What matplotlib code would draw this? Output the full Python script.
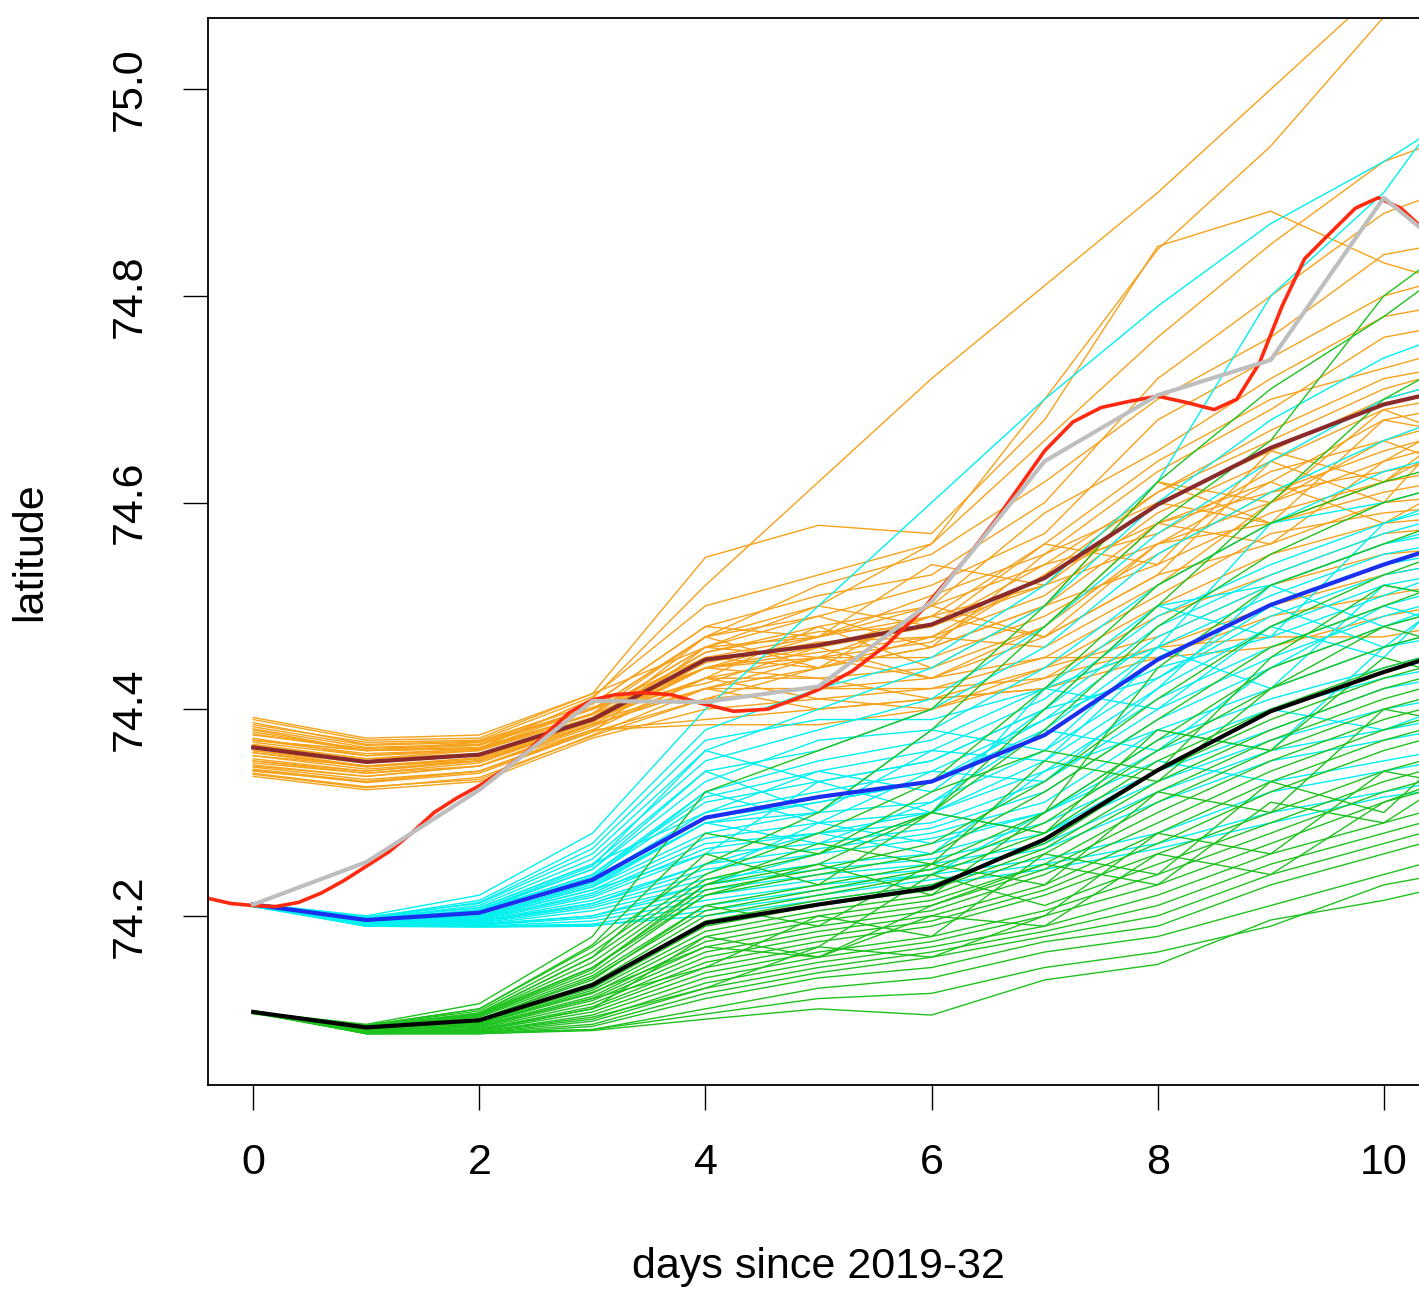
import matplotlib
matplotlib.use("Agg")
import matplotlib.pyplot as plt

plt.rcParams["font.family"] = ["Liberation Sans", "DejaVu Sans"]

# forecast days (members run one day past the visible window)
days = [0, 1, 2, 3, 4, 5, 6, 7, 8, 9, 10, 11]

orange_members = [
    [74.372, 74.355, 74.362, 74.410, 74.520, 74.620, 74.720, 74.810, 74.900, 75.000, 75.100, 75.200],
    [74.380, 74.360, 74.365, 74.400, 74.470, 74.500, 74.560, 74.700, 74.845, 74.945, 75.070, 75.150],
    [74.390, 74.370, 74.372, 74.415, 74.547, 74.578, 74.570, 74.680, 74.848, 74.882, 74.832, 74.800],
    [74.385, 74.368, 74.370, 74.412, 74.500, 74.530, 74.560, 74.660, 74.760, 74.850, 74.930, 74.970],
    [74.370, 74.360, 74.368, 74.405, 74.480, 74.510, 74.530, 74.600, 74.720, 74.800, 74.880, 74.920],
    [74.375, 74.362, 74.366, 74.400, 74.470, 74.520, 74.550, 74.620, 74.700, 74.760, 74.840, 74.860],
    [74.365, 74.352, 74.360, 74.395, 74.460, 74.490, 74.520, 74.570, 74.680, 74.740, 74.800, 74.830],
    [74.355, 74.345, 74.352, 74.390, 74.455, 74.480, 74.500, 74.590, 74.650, 74.720, 74.780, 74.800],
    [74.360, 74.348, 74.355, 74.392, 74.450, 74.470, 74.510, 74.550, 74.630, 74.690, 74.760, 74.780],
    [74.345, 74.335, 74.345, 74.385, 74.440, 74.460, 74.490, 74.560, 74.640, 74.700, 74.730, 74.760],
    [74.350, 74.340, 74.350, 74.388, 74.445, 74.465, 74.470, 74.530, 74.610, 74.670, 74.720, 74.740],
    [74.368, 74.355, 74.360, 74.392, 74.455, 74.475, 74.480, 74.520, 74.600, 74.650, 74.700, 74.730],
    [74.362, 74.350, 74.357, 74.390, 74.440, 74.455, 74.470, 74.510, 74.590, 74.640, 74.690, 74.710],
    [74.340, 74.330, 74.340, 74.380, 74.430, 74.450, 74.465, 74.530, 74.580, 74.620, 74.680, 74.700],
    [74.358, 74.345, 74.353, 74.390, 74.450, 74.460, 74.480, 74.540, 74.570, 74.630, 74.660, 74.690],
    [74.338, 74.325, 74.332, 74.375, 74.420, 74.440, 74.460, 74.500, 74.580, 74.610, 74.650, 74.680],
    [74.370, 74.360, 74.363, 74.395, 74.460, 74.470, 74.490, 74.520, 74.560, 74.600, 74.640, 74.670],
    [74.352, 74.340, 74.350, 74.388, 74.440, 74.450, 74.450, 74.490, 74.550, 74.610, 74.630, 74.650],
    [74.383, 74.365, 74.368, 74.400, 74.450, 74.440, 74.460, 74.500, 74.540, 74.590, 74.620, 74.640],
    [74.346, 74.335, 74.345, 74.383, 74.430, 74.430, 74.440, 74.480, 74.560, 74.580, 74.610, 74.630],
    [74.360, 74.345, 74.350, 74.385, 74.420, 74.420, 74.430, 74.470, 74.530, 74.560, 74.600, 74.610],
    [74.342, 74.330, 74.340, 74.378, 74.410, 74.420, 74.420, 74.450, 74.510, 74.570, 74.590, 74.600],
    [74.376, 74.360, 74.362, 74.395, 74.440, 74.430, 74.410, 74.440, 74.500, 74.550, 74.580, 74.590],
    [74.335, 74.322, 74.330, 74.372, 74.400, 74.410, 74.420, 74.430, 74.490, 74.530, 74.570, 74.580],
    [74.366, 74.352, 74.357, 74.390, 74.430, 74.410, 74.400, 74.440, 74.470, 74.520, 74.550, 74.560],
    [74.348, 74.338, 74.345, 74.380, 74.390, 74.400, 74.410, 74.420, 74.460, 74.500, 74.530, 74.550],
    [74.392, 74.372, 74.375, 74.415, 74.460, 74.450, 74.430, 74.450, 74.450, 74.490, 74.510, 74.530],
    [74.355, 74.342, 74.350, 74.385, 74.420, 74.400, 74.410, 74.420, 74.450, 74.460, 74.490, 74.510],
    [74.344, 74.332, 74.340, 74.380, 74.385, 74.385, 74.400, 74.430, 74.460, 74.470, 74.470, 74.490],
    [74.378, 74.360, 74.362, 74.400, 74.440, 74.470, 74.500, 74.540, 74.610, 74.660, 74.710, 74.740],
    [74.387, 74.366, 74.369, 74.405, 74.480, 74.470, 74.540, 74.520, 74.620, 74.600, 74.690, 74.650],
    [74.341, 74.329, 74.338, 74.378, 74.460, 74.500, 74.480, 74.560, 74.540, 74.650, 74.620, 74.700],
    [74.364, 74.350, 74.356, 74.392, 74.430, 74.480, 74.440, 74.500, 74.620, 74.580, 74.680, 74.660],
    [74.350, 74.338, 74.348, 74.386, 74.470, 74.440, 74.500, 74.470, 74.530, 74.640, 74.600, 74.720],
    [74.381, 74.363, 74.366, 74.402, 74.425, 74.460, 74.430, 74.480, 74.580, 74.560, 74.640, 74.700],
    [74.337, 74.324, 74.334, 74.374, 74.410, 74.440, 74.470, 74.460, 74.520, 74.600, 74.660, 74.620],
    [74.370, 74.357, 74.361, 74.396, 74.470, 74.490, 74.460, 74.550, 74.600, 74.580, 74.620, 74.680],
    [74.358, 74.344, 74.352, 74.389, 74.420, 74.450, 74.490, 74.470, 74.560, 74.620, 74.580, 74.640],
]

cyan_members = [
    [74.212, 74.200, 74.220, 74.280, 74.400, 74.500, 74.600, 74.700, 74.790, 74.870, 74.930, 75.000],
    [74.210, 74.198, 74.215, 74.270, 74.380, 74.420, 74.450, 74.520, 74.620, 74.800, 74.900, 75.050],
    [74.211, 74.199, 74.212, 74.260, 74.360, 74.400, 74.440, 74.500, 74.600, 74.680, 74.740, 74.780],
    [74.210, 74.197, 74.210, 74.255, 74.350, 74.380, 74.410, 74.480, 74.570, 74.640, 74.700, 74.730],
    [74.212, 74.198, 74.208, 74.250, 74.340, 74.360, 74.400, 74.460, 74.550, 74.610, 74.660, 74.700],
    [74.209, 74.196, 74.206, 74.245, 74.330, 74.370, 74.380, 74.440, 74.520, 74.580, 74.630, 74.660],
    [74.210, 74.197, 74.205, 74.240, 74.320, 74.350, 74.370, 74.420, 74.460, 74.580, 74.600, 74.630],
    [74.211, 74.196, 74.204, 74.240, 74.315, 74.340, 74.360, 74.410, 74.490, 74.540, 74.580, 74.610],
    [74.210, 74.195, 74.203, 74.238, 74.310, 74.330, 74.350, 74.400, 74.480, 74.530, 74.570, 74.600],
    [74.209, 74.195, 74.202, 74.235, 74.300, 74.320, 74.340, 74.390, 74.470, 74.520, 74.560, 74.580],
    [74.210, 74.196, 74.203, 74.233, 74.295, 74.310, 74.330, 74.380, 74.460, 74.510, 74.550, 74.570],
    [74.211, 74.195, 74.200, 74.230, 74.290, 74.300, 74.360, 74.350, 74.450, 74.500, 74.540, 74.560],
    [74.210, 74.194, 74.199, 74.228, 74.280, 74.300, 74.310, 74.360, 74.430, 74.490, 74.530, 74.550],
    [74.209, 74.194, 74.198, 74.225, 74.275, 74.290, 74.300, 74.350, 74.420, 74.480, 74.520, 74.540],
    [74.210, 74.193, 74.197, 74.222, 74.270, 74.280, 74.300, 74.340, 74.410, 74.460, 74.500, 74.530],
    [74.210, 74.194, 74.197, 74.220, 74.265, 74.280, 74.290, 74.330, 74.400, 74.450, 74.490, 74.520],
    [74.211, 74.193, 74.196, 74.218, 74.260, 74.270, 74.285, 74.320, 74.390, 74.440, 74.480, 74.510],
    [74.209, 74.192, 74.195, 74.215, 74.250, 74.265, 74.280, 74.310, 74.380, 74.420, 74.460, 74.490],
    [74.210, 74.193, 74.195, 74.212, 74.245, 74.260, 74.275, 74.300, 74.370, 74.410, 74.440, 74.470],
    [74.210, 74.192, 74.194, 74.210, 74.240, 74.290, 74.270, 74.300, 74.360, 74.400, 74.430, 74.450],
    [74.211, 74.192, 74.193, 74.208, 74.235, 74.250, 74.260, 74.290, 74.340, 74.380, 74.420, 74.440],
    [74.209, 74.191, 74.192, 74.205, 74.230, 74.245, 74.255, 74.280, 74.330, 74.370, 74.400, 74.420],
    [74.210, 74.191, 74.192, 74.200, 74.225, 74.240, 74.250, 74.270, 74.320, 74.360, 74.380, 74.400],
    [74.210, 74.190, 74.191, 74.198, 74.220, 74.235, 74.245, 74.265, 74.310, 74.350, 74.370, 74.390],
    [74.211, 74.190, 74.190, 74.195, 74.215, 74.230, 74.240, 74.300, 74.350, 74.330, 74.350, 74.370],
    [74.209, 74.190, 74.190, 74.192, 74.210, 74.225, 74.240, 74.255, 74.280, 74.320, 74.340, 74.360],
    [74.210, 74.190, 74.189, 74.190, 74.205, 74.220, 74.235, 74.250, 74.270, 74.300, 74.320, 74.340],
    [74.210, 74.191, 74.190, 74.191, 74.200, 74.215, 74.230, 74.245, 74.265, 74.290, 74.315, 74.330],
    [74.211, 74.197, 74.213, 74.265, 74.370, 74.390, 74.390, 74.420, 74.500, 74.520, 74.560, 74.590],
    [74.210, 74.194, 74.200, 74.232, 74.290, 74.310, 74.330, 74.390, 74.440, 74.470, 74.510, 74.550],
    [74.210, 74.196, 74.205, 74.245, 74.340, 74.300, 74.380, 74.360, 74.460, 74.420, 74.520, 74.500],
    [74.211, 74.193, 74.198, 74.225, 74.260, 74.330, 74.300, 74.420, 74.400, 74.480, 74.450, 74.560],
    [74.209, 74.195, 74.202, 74.236, 74.320, 74.290, 74.340, 74.330, 74.420, 74.520, 74.480, 74.520],
    [74.210, 74.192, 74.194, 74.212, 74.250, 74.280, 74.260, 74.340, 74.380, 74.360, 74.460, 74.480],
    [74.211, 74.197, 74.208, 74.250, 74.300, 74.340, 74.320, 74.400, 74.500, 74.470, 74.580, 74.620],
    [74.210, 74.191, 74.191, 74.200, 74.230, 74.260, 74.300, 74.280, 74.340, 74.400, 74.380, 74.420],
    [74.209, 74.194, 74.199, 74.228, 74.290, 74.270, 74.310, 74.380, 74.360, 74.440, 74.500, 74.470],
    [74.210, 74.196, 74.206, 74.248, 74.360, 74.330, 74.350, 74.400, 74.430, 74.500, 74.460, 74.540],
]

green_members = [
    [74.107, 74.095, 74.115, 74.180, 74.320, 74.360, 74.400, 74.500, 74.620, 74.710, 74.780, 74.860],
    [74.106, 74.094, 74.110, 74.170, 74.250, 74.300, 74.380, 74.480, 74.580, 74.660, 74.800, 74.880],
    [74.107, 74.094, 74.108, 74.165, 74.240, 74.280, 74.330, 74.420, 74.520, 74.580, 74.620, 74.650],
    [74.105, 74.093, 74.106, 74.160, 74.235, 74.260, 74.300, 74.380, 74.480, 74.550, 74.600, 74.630],
    [74.107, 74.093, 74.105, 74.155, 74.230, 74.250, 74.220, 74.300, 74.440, 74.520, 74.560, 74.600],
    [74.106, 74.092, 74.104, 74.150, 74.225, 74.245, 74.270, 74.330, 74.410, 74.480, 74.530, 74.570],
    [74.107, 74.092, 74.103, 74.145, 74.220, 74.240, 74.260, 74.320, 74.390, 74.460, 74.500, 74.540],
    [74.108, 74.092, 74.102, 74.142, 74.210, 74.230, 74.250, 74.300, 74.370, 74.440, 74.480, 74.510],
    [74.106, 74.091, 74.100, 74.140, 74.205, 74.225, 74.245, 74.290, 74.360, 74.420, 74.460, 74.490],
    [74.107, 74.091, 74.099, 74.135, 74.200, 74.220, 74.240, 74.280, 74.350, 74.400, 74.440, 74.470],
    [74.107, 74.091, 74.098, 74.132, 74.195, 74.215, 74.230, 74.270, 74.340, 74.390, 74.430, 74.460],
    [74.106, 74.090, 74.097, 74.130, 74.190, 74.210, 74.225, 74.265, 74.330, 74.380, 74.420, 74.450],
    [74.107, 74.090, 74.096, 74.128, 74.185, 74.205, 74.220, 74.260, 74.320, 74.370, 74.410, 74.440],
    [74.108, 74.090, 74.095, 74.125, 74.180, 74.200, 74.215, 74.250, 74.310, 74.360, 74.400, 74.430],
    [74.106, 74.089, 74.094, 74.122, 74.175, 74.195, 74.210, 74.245, 74.300, 74.350, 74.390, 74.420],
    [74.107, 74.089, 74.093, 74.120, 74.170, 74.190, 74.205, 74.240, 74.290, 74.340, 74.380, 74.410],
    [74.107, 74.089, 74.092, 74.118, 74.165, 74.185, 74.200, 74.230, 74.280, 74.330, 74.370, 74.400],
    [74.106, 74.088, 74.091, 74.115, 74.160, 74.180, 74.195, 74.225, 74.270, 74.320, 74.360, 74.390],
    [74.107, 74.088, 74.090, 74.112, 74.155, 74.175, 74.190, 74.220, 74.260, 74.300, 74.340, 74.370],
    [74.108, 74.088, 74.089, 74.110, 74.150, 74.170, 74.240, 74.210, 74.250, 74.290, 74.330, 74.360],
    [74.106, 74.087, 74.089, 74.107, 74.145, 74.165, 74.180, 74.205, 74.240, 74.280, 74.320, 74.350],
    [74.107, 74.087, 74.088, 74.104, 74.140, 74.160, 74.175, 74.200, 74.230, 74.270, 74.310, 74.340],
    [74.107, 74.087, 74.088, 74.100, 74.135, 74.155, 74.170, 74.190, 74.220, 74.260, 74.290, 74.320],
    [74.106, 74.087, 74.087, 74.098, 74.130, 74.150, 74.165, 74.185, 74.210, 74.250, 74.280, 74.310],
    [74.107, 74.086, 74.087, 74.095, 74.125, 74.145, 74.160, 74.180, 74.200, 74.240, 74.270, 74.300],
    [74.108, 74.086, 74.086, 74.093, 74.120, 74.140, 74.150, 74.175, 74.190, 74.230, 74.260, 74.290],
    [74.107, 74.086, 74.086, 74.090, 74.110, 74.130, 74.140, 74.165, 74.180, 74.210, 74.240, 74.270],
    [74.106, 74.086, 74.086, 74.089, 74.100, 74.110, 74.104, 74.138, 74.153, 74.196, 74.215, 74.240],
    [74.107, 74.087, 74.087, 74.090, 74.105, 74.120, 74.125, 74.150, 74.165, 74.190, 74.230, 74.250],
    [74.107, 74.093, 74.105, 74.150, 74.220, 74.250, 74.300, 74.400, 74.500, 74.600, 74.700, 74.760],
    [74.107, 74.093, 74.106, 74.160, 74.260, 74.230, 74.300, 74.280, 74.380, 74.360, 74.450, 74.420],
    [74.106, 74.089, 74.093, 74.120, 74.150, 74.200, 74.180, 74.260, 74.240, 74.330, 74.300, 74.400],
    [74.107, 74.091, 74.100, 74.138, 74.210, 74.190, 74.250, 74.230, 74.320, 74.300, 74.400, 74.380],
    [74.108, 74.088, 74.090, 74.110, 74.180, 74.160, 74.210, 74.250, 74.230, 74.310, 74.290, 74.360],
    [74.106, 74.092, 74.103, 74.148, 74.230, 74.270, 74.250, 74.350, 74.330, 74.420, 74.480, 74.450],
    [74.107, 74.087, 74.088, 74.102, 74.130, 74.170, 74.160, 74.200, 74.280, 74.260, 74.340, 74.320],
    [74.107, 74.090, 74.096, 74.126, 74.170, 74.160, 74.200, 74.190, 74.260, 74.240, 74.310, 74.350],
    [74.106, 74.094, 74.110, 74.172, 74.280, 74.260, 74.320, 74.360, 74.340, 74.450, 74.520, 74.500],
]

# ensemble means
orange_mean = [74.363, 74.349, 74.356, 74.390, 74.448, 74.462, 74.482, 74.527, 74.598, 74.653, 74.695, 74.720]
cyan_mean = [74.211, 74.196, 74.203, 74.235, 74.295, 74.315, 74.330, 74.375, 74.448, 74.501, 74.540, 74.575]
green_mean = [74.107, 74.092, 74.099, 74.133, 74.193, 74.211, 74.227, 74.274, 74.341, 74.398, 74.436, 74.470]

# observed track (gray: daily, red: fine resolution)
gray_lat = [74.211, 74.252, 74.322, 74.408, 74.407, 74.422, 74.504, 74.640, 74.704, 74.738, 74.895, 74.805]

red_days = [-0.4, -0.2, 0.0, 0.2, 0.4, 0.6, 0.8, 1.0, 1.2, 1.4, 1.6, 1.8, 2.0, 2.2, 2.4,
            2.6, 2.8, 3.0, 3.2, 3.45, 3.7, 3.95, 4.25, 4.55, 4.8, 5.0, 5.3, 5.6, 5.9,
            6.3, 6.6, 7.0, 7.25, 7.5, 7.75, 8.0, 8.25, 8.5, 8.7, 8.9, 9.1, 9.3, 9.5,
            9.75, 9.95, 10.15, 10.4]
red_lat = [74.217, 74.212, 74.210, 74.209, 74.213, 74.222, 74.234, 74.248, 74.262, 74.280,
           74.300, 74.314, 74.326, 74.340, 74.357, 74.377, 74.397, 74.409, 74.414, 74.416,
           74.414, 74.406, 74.398, 74.400, 74.410, 74.419, 74.437, 74.462, 74.494, 74.545,
           74.588, 74.650, 74.678, 74.692, 74.698, 74.703, 74.697, 74.690, 74.700, 74.735,
           74.790, 74.836, 74.858, 74.885, 74.895, 74.885, 74.860]

fig = plt.figure(figsize=(14.19, 12.89), dpi=100)
ax = fig.add_axes([208 / 1419, 1 - 1085 / 1289, (1429 - 208) / 1419, (1085 - 18) / 1289])

for m in orange_members:
    ax.plot(days, m, color="#F7A21B", lw=1.0)
for m in cyan_members:
    ax.plot(days, m, color="#00F0F0", lw=1.0)
for m in green_members:
    ax.plot(days, m, color="#1EC21E", lw=1.0)

ax.plot(days, orange_mean, color="#8B2A2A", lw=3)
ax.plot(days, cyan_mean, color="#1A30F0", lw=3)
ax.plot(days, green_mean, color="black", lw=3)
ax.plot(red_days, red_lat, color="#FF2A10", lw=2.6)
ax.plot(days, gray_lat, color="#BEBEBE", lw=3)

ax.set_xlim(-0.4, 10.4)
ax.set_ylim(74.0363, 75.069)
ax.set_xticks([0, 2, 4, 6, 8, 10])
ax.set_yticks([74.2, 74.4, 74.6, 74.8, 75.0])
ax.set_yticklabels(["74.2", "74.4", "74.6", "74.8", "75.0"])
ax.tick_params(axis="both", direction="out", length=18, width=1, labelsize=31, pad=24)
for lab in ax.get_yticklabels():
    lab.set_rotation(90)
    lab.set_va("center")
for sp in ax.spines.values():
    sp.set_linewidth(1.3)

ax.set_xlabel("days since 2019-32", fontsize=31, va="center")
ax.xaxis.set_label_coords(0.5, -0.1706)
ax.set_ylabel("latitude", fontsize=31, va="center")
ax.yaxis.set_label_coords(-0.1458, 0.5)

fig.savefig("out.png", dpi=100)
